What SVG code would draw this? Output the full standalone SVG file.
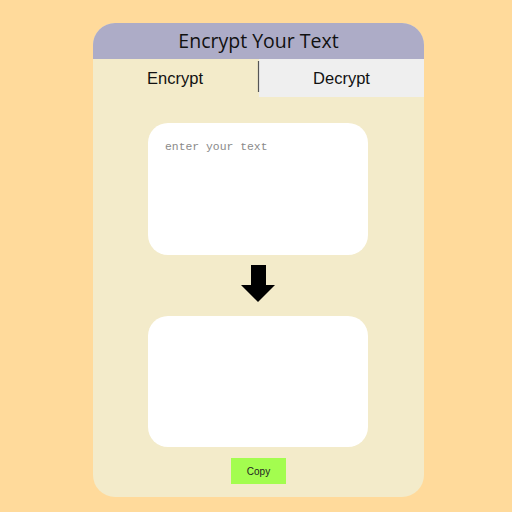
<svg xmlns="http://www.w3.org/2000/svg" width="512" height="512" viewBox="0 0 512 512">
<style>
.box{fill:#ffffff}
.tab{font-family:"Liberation Sans",Arial,sans-serif;font-size:16.5px;fill:#111111;text-anchor:middle}
</style>
<defs>
<clipPath id="cardClip"><rect x="93" y="23" width="331" height="474" rx="22"/></clipPath>
</defs>
<rect width="512" height="512" fill="#FFDA9B"/>
<g id="card" clip-path="url(#cardClip)">
<rect x="93" y="23" width="331" height="474" fill="#F3EBCA"/>
<rect x="93" y="23" width="331" height="36" fill="#ADACC7"/>
<rect x="259" y="59" width="165" height="38" fill="#EFEFEF"/>
</g>
<g id="title">
<text x="258.5" y="48" font-family="'Open Sans','Noto Sans',sans-serif" font-size="19.5" fill="#111111" text-anchor="middle">Encrypt Your Text</text>
</g>
<g id="tab-encrypt">
<text class="tab" x="175" y="84">Encrypt</text>
</g>
<g id="tab-decrypt">
<line x1="258.5" y1="61" x2="258.5" y2="92" stroke="#555555" stroke-width="1.2"/>
<text class="tab" x="341.5" y="84">Decrypt</text>
</g>
<g id="input-box">
<rect class="box" x="148" y="123" width="220" height="132" rx="20"/>
<text x="165" y="150" font-family="'Liberation Mono','Courier New',monospace" font-size="11.4" fill="#8a8a8a">enter your text</text>
</g>
<g id="connectors">
<polygon points="251,265 266,265 266,285 275,285 258,302 241,285 251,285" fill="#000000"/>
</g>
<g id="output-box">
<rect class="box" x="148" y="316" width="220" height="131" rx="20"/>
</g>
<g id="copy-button">
<rect x="231" y="458" width="55" height="26" fill="#A3FD4F"/>
<text x="258.5" y="474.5" font-family="'Liberation Sans',Arial,sans-serif" font-size="10" fill="#222222" text-anchor="middle">Copy</text>
</g>
</svg>
